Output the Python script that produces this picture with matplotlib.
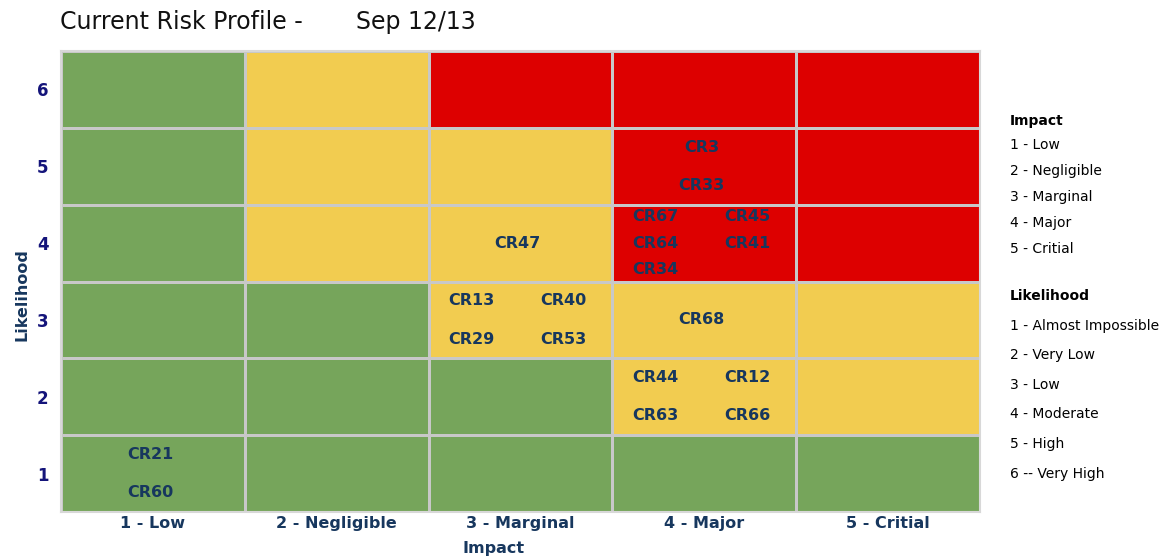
import matplotlib
matplotlib.use("Agg")
import matplotlib.pyplot as plt
from matplotlib.colors import ListedColormap
import numpy as np

# ---- data ----
impact_labels = ["1 - Low", "2 - Negligible", "3 - Marginal", "4 - Major", "5 - Critial"]
likelihood_labels = ["1", "2", "3", "4", "5", "6"]
# risk level per cell: rows = likelihood 1..6, cols = impact 1..5 (0 green, 1 amber, 2 red)
risk_level = [
    [0, 0, 0, 0, 0],
    [0, 0, 0, 1, 1],
    [0, 0, 1, 1, 1],
    [0, 1, 1, 2, 2],
    [0, 1, 1, 2, 2],
    [0, 1, 2, 2, 2],
]
risk_ids = ["CR21", "CR60", "CR47", "CR13", "CR40", "CR29", "CR53", "CR3", "CR33",
            "CR67", "CR45", "CR64", "CR41", "CR34", "CR68", "CR44", "CR12", "CR63", "CR66"]
risk_impact = [1, 1, 3, 3, 3, 3, 3, 4, 4, 4, 4, 4, 4, 4, 4, 4, 4, 4, 4]
risk_likelihood = [1, 1, 4, 3, 3, 3, 3, 5, 5, 4, 4, 4, 4, 4, 3, 2, 2, 2, 2]
legend_impact = ["1 - Low", "2 - Negligible", "3 - Marginal", "4 - Major", "5 - Critial"]
legend_likelihood = ["1 - Almost Impossible", "2 - Very Low", "3 - Low", "4 - Moderate",
                     "5 - High", "6 -- Very High"]

GREEN = "#76A55B"
AMBER = "#F2CC50"
RED = "#DD0000"
NAVY = "#17375E"

fig = plt.figure(figsize=(11.67, 5.6), dpi=100)
ax = fig.add_axes([61 / 1167, 1 - 512 / 560, (980 - 61) / 1167, (512 - 51) / 560])

cmap = ListedColormap([GREEN, AMBER, RED])
Z = np.array(risk_level)
xe = np.arange(0.5, len(impact_labels) + 1.5)
ye = np.arange(0.5, len(likelihood_labels) + 1.5)
ax.pcolormesh(xe, ye, Z, cmap=cmap, vmin=-0.5, vmax=2.5,
              edgecolor="#C8C8C8", linewidth=1.8)
ax.set_xlim(0.5, 5.5)
ax.set_ylim(0.5, 6.5)

# place risk labels inside cells
cells = {}
for rid, im, lk in zip(risk_ids, risk_impact, risk_likelihood):
    cells.setdefault((im, lk), []).append(rid)
for (im, lk), ids in cells.items():
    n = len(ids)
    ncols = 1 if n <= 2 else 2
    nrows = int(np.ceil(n / ncols))
    dy = 0.5 if nrows <= 2 else 0.34
    dx = 0.5
    for k, rid in enumerate(ids):
        r, c = divmod(k, ncols)
        x = im + (c - (ncols - 1) / 2) * dx
        y = lk + ((nrows - 1) / 2 - r) * dy
        ax.text(x - 0.015, y, rid, ha="center", va="center", fontsize=11.5,
                fontweight="bold", color=NAVY)

ax.set_xticks(range(1, 6))
ax.set_xticklabels(impact_labels, fontsize=11.5, fontweight="bold", color=NAVY)
ax.set_yticks(range(1, 7))
ax.set_yticklabels(likelihood_labels, fontsize=12, fontweight="bold", color="#14147A")
ax.tick_params(axis="x", length=0, pad=3)
ax.tick_params(axis="y", length=0, pad=9)
ax.set_xlabel("Impact", fontsize=11.5, fontweight="bold", color=NAVY, va="center")
ax.xaxis.set_label_coords((494 - 61) / 919, -(548 - 512) / 461)
ax.set_ylabel("Likelihood", fontsize=11.5, fontweight="bold", color=NAVY, va="center")
ax.yaxis.set_label_coords(-(61 - 22) / 919, (512 - 295) / 461)
for s in ax.spines.values():
    s.set_color("#D8D8D8")
    s.set_linewidth(1.5)

fig.text(60 / 1167, 1 - 22 / 560, "Current Risk Profile -",
         fontsize=17, ha="left", va="center", color="#111111")
fig.text(356 / 1167, 1 - 22 / 560, "Sep 12/13",
         fontsize=17, ha="left", va="center", color="#111111")

lx = 1010 / 1167
fig.text(lx, 1 - 121 / 560, "Impact", fontsize=10, fontweight="bold", va="center")
imp_y = [145, 171, 197, 223, 249]
for t, yy in zip(legend_impact, imp_y):
    fig.text(lx, 1 - yy / 560, t, fontsize=10, va="center")
fig.text(lx, 1 - 296 / 560, "Likelihood", fontsize=10, fontweight="bold", va="center")
lik_y = [326, 355, 385, 414, 444, 474]
for t, yy in zip(legend_likelihood, lik_y):
    fig.text(lx, 1 - yy / 560, t, fontsize=10, va="center")

fig.savefig("out.png", dpi=100)
